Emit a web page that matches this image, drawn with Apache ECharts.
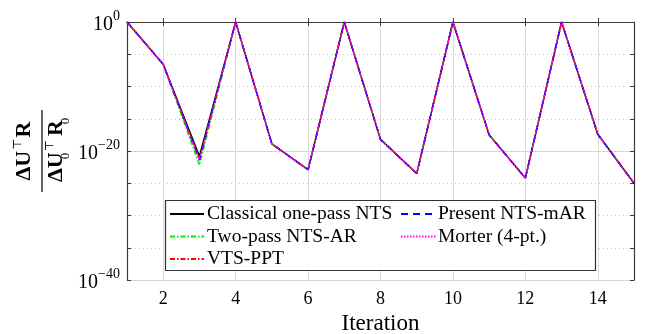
<!DOCTYPE html>
<html>
<head>
<meta charset="utf-8">
<script src="https://cdn.jsdelivr.net/npm/echarts@6/dist/echarts.min.js"></script>
<style>
  html, body { margin: 0; padding: 0; background: #fff; }
  #chart { width: 646px; height: 334px; }
</style>
</head>
<body>
<div id="chart"></div>
<script>
// iteration number on the x axis
const iterations = [1, 2, 3, 4, 5, 6, 7, 8, 9, 10, 11, 12, 13, 14, 15]

// log10 of the normalised residual  dU^T R / dU0^T R0
const classical = [0, -6.56, -20.8, 0, -18.9, -22.9, 0, -18.2, -23.5, 0, -17.5, -24.2, 0, -17.4, -25.0]
const twoPass   = [0, -6.56, -22.2, 0, -18.9, -22.9, 0, -18.2, -23.5, 0, -17.5, -24.2, 0, -17.4, -25.0]
const vtsPpt    = [0, -6.56, -21.4, 0, -18.9, -22.9, 0, -18.2, -23.5, 0, -17.5, -24.2, 0, -17.4, -25.0]
const present   = [0, -6.56, -21.4, 0, -18.9, -22.9, 0, -18.2, -23.5, 0, -17.5, -24.2, 0, -17.4, -25.0]
const morter    = [0, -6.56, -21.4, 0, -18.9, -22.9, 0, -18.2, -23.5, 0, -17.5, -24.2, 0, -17.4, -25.0]

const seriesNames = ["Classical one-pass NTS", "Two-pass NTS-AR", "VTS-PPT", "Present NTS-mAR", "Morter (4-pt.)"]

const FONT = "Liberation Serif"
const AXIS = "#3a3a3a"

const chart = echarts.init(document.getElementById("chart"))

const pairs = (ys) => iterations.map((x, i) => [x, ys[i]])

const line = (name, ys, color, type, width) => ({
  name: name,
  type: "line",
  data: pairs(ys),
  symbol: "none",
  xAxisIndex: 0,
  yAxisIndex: 0,
  lineStyle: { color: color, type: type, width: width },
  itemStyle: { color: color },
  animation: false,
})

// decade labels 10^e
const supLabel = (e) => "{n|10}{s|" + (e < 0 ? "\u2212" + (-e) : e) + "}"

const option = {
  animation: false,
  // keep the plot box fixed, labels may sit near the canvas edge
  grid: { left: 127, right: 12, top: 22, bottom: 54, outerBoundsMode: "none", containLabel: false },
  xAxis: [
    {
      type: "value",
      min: 1,
      max: 15,
      splitNumber: 7,
      position: "bottom",
      axisLine: { lineStyle: { color: AXIS, width: 1.2 } },
      axisTick: { inside: true, length: 4, lineStyle: { color: AXIS } },
      axisLabel: {
        showMinLabel: false,
        showMaxLabel: false,
        margin: 10,
        fontFamily: FONT,
        fontSize: 18,
        color: "#000",
      },
      splitLine: { show: true, lineStyle: { color: "#dadada", width: 1 } },
      name: "Iteration",
      nameLocation: "middle",
      nameGap: 32,
      nameTextStyle: { fontFamily: FONT, fontSize: 23, color: "#000" },
    },
    {
      type: "value",
      min: 1,
      max: 15,
      splitNumber: 7,
      position: "top",
      axisLine: { lineStyle: { color: AXIS, width: 1.2 } },
      axisTick: { inside: true, length: 4, lineStyle: { color: AXIS } },
      axisLabel: { show: false },
      splitLine: { show: false },
    },
  ],
  yAxis: [
    {
      type: "value",
      min: -40,
      max: 0,
      interval: 20,
      position: "left",
      axisLine: { show: true, lineStyle: { color: AXIS, width: 1.2 } },
      axisTick: { show: false },
      axisLabel: {
        margin: 7,
        formatter: supLabel,
        color: "#000",
        rich: {
          n: { fontFamily: FONT, fontSize: 20, color: "#000", verticalAlign: "middle", padding: [6, 0, 0, 0] },
          s: { fontFamily: FONT, fontSize: 14, color: "#000", verticalAlign: "top", padding: [0, 0, 0, 0] },
        },
      },
      splitLine: { show: true, lineStyle: { color: "#dadada", width: 1 } },
    },
    {
      type: "value",
      min: -40,
      max: 0,
      interval: 5,
      position: "left",
      axisLine: { show: false },
      axisTick: { show: true, inside: true, length: 4, lineStyle: { color: AXIS } },
      axisLabel: { show: false },
      splitLine: { show: true, lineStyle: { color: "#c8c8c8", width: 1, type: [1, 3] } },
    },
    {
      type: "value",
      min: -40,
      max: 0,
      interval: 5,
      position: "right",
      axisLine: { show: true, lineStyle: { color: AXIS, width: 1.2 } },
      axisTick: { show: true, inside: true, length: 4, lineStyle: { color: AXIS } },
      axisLabel: { show: false },
      splitLine: { show: false },
    },
  ],
  legend: [
    {
      data: [seriesNames[0], seriesNames[1], seriesNames[2]],
      orient: "vertical",
      left: 169,
      top: 204,
      padding: 0,
      itemWidth: 34,
      itemHeight: 14,
      itemGap: 2.5,
      itemStyle: { opacity: 0 },
      textStyle: { fontFamily: FONT, fontSize: 19.5, color: "#000", padding: [0, 0, 0, -2] },
      z: 10,
    },
    {
      data: [seriesNames[3], seriesNames[4]],
      orient: "vertical",
      left: 400,
      top: 204,
      padding: 0,
      itemWidth: 35,
      itemHeight: 14,
      itemGap: 2.5,
      itemStyle: { opacity: 0 },
      textStyle: { fontFamily: FONT, fontSize: 19.5, color: "#000", padding: [0, 0, 0, -3] },
      z: 10,
    },
  ],
  graphic: [
    {
      type: "rect",
      z: 5,
      shape: { x: 165.5, y: 200.5, width: 430, height: 70 },
      style: { fill: "#fff", stroke: "#333", lineWidth: 1.2 },
    },
    {
      type: "group",
      x: 42,
      y: 151,
      rotation: Math.PI / 2,
      children: [
        {
          type: "text",
          x: 0,
          y: -6,
          style: {
            text: "{b|\u0394U}{t|\u22a4}{b|R}",
            align: "center",
            verticalAlign: "bottom",
            rich: {
              b: { fontFamily: FONT, fontWeight: "bold", fontSize: 22, fill: "#000" },
              t: { fontFamily: "DejaVu Serif", fontSize: 12, fill: "#000", verticalAlign: "top", padding: [0, 1, 12, 1] },
            },
          },
        },
        {
          type: "line",
          shape: { x1: -41, y1: 0, x2: 41, y2: 0 },
          style: { stroke: "#000", lineWidth: 1.2 },
        },
        {
          type: "text",
          x: 0,
          y: 2,
          style: {
            text: "{b|\u0394U}{t|\u22a4}{b|R}",
            align: "center",
            verticalAlign: "top",
            rich: {
              b: { fontFamily: FONT, fontWeight: "bold", fontSize: 22, fill: "#000" },
              t: { fontFamily: "DejaVu Serif", fontSize: 12, fill: "#000", verticalAlign: "top", padding: [0, 4, 12, 1] },
            },
          },
        },
        // subscripts 0 under the transpose mark and after R
        {
          type: "text",
          x: -5,
          y: 17,
          style: { text: "0", font: "13px 'Liberation Serif'", fill: "#000", align: "center", verticalAlign: "top" },
        },
        {
          type: "text",
          x: 30,
          y: 17,
          style: { text: "0", font: "13px 'Liberation Serif'", fill: "#000", align: "center", verticalAlign: "top" },
        },
      ],
    },
  ],
  series: [
    line(seriesNames[0], classical, "#000000", "solid", 1.5),
    line(seriesNames[1], twoPass, "#00ee00", [5, 2, 1.5, 2], 1.5),
    line(seriesNames[2], vtsPpt, "#ff0000", [5, 2, 1.5, 2], 1.5),
    line(seriesNames[3], present, "#0000ff", [7, 5], 1.5),
    line(seriesNames[4], morter, "#ff00ff", [1.5, 1.5], 1.5),
  ],
}

chart.setOption(option)

window.addEventListener("resize", () => chart.resize())
</script>
</body>
</html>
